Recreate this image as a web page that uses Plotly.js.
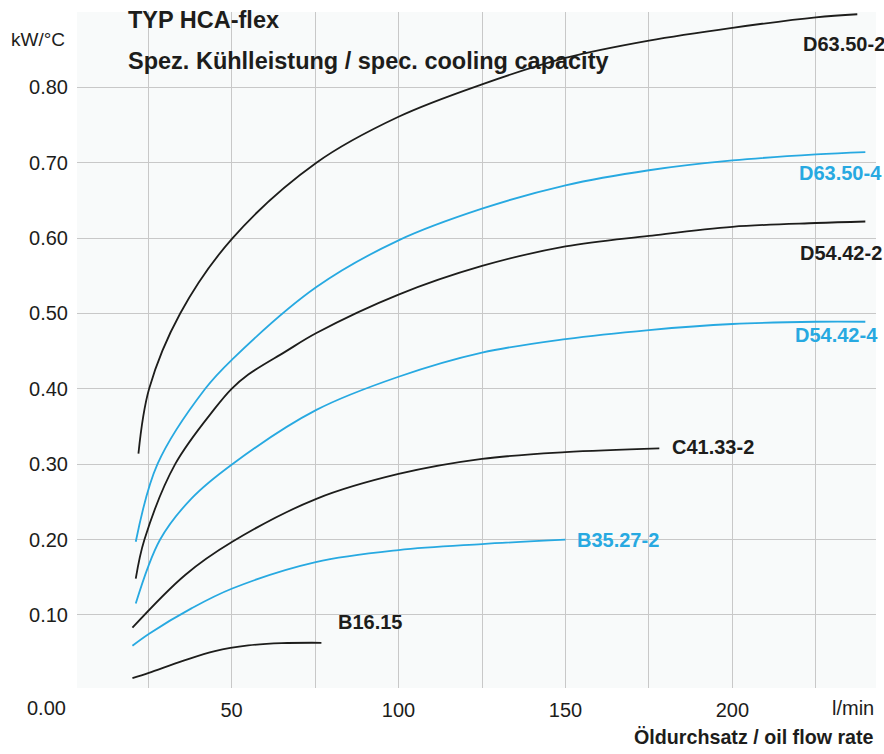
<!DOCTYPE html>
<html>
<head>
<meta charset="utf-8">
<script src="https://cdn.plot.ly/plotly-3.0.1.min.js"></script>
<style>html,body{margin:0;padding:0;background:#fff;}#chart{width:884px;height:754px;}</style>
</head>
<body>
<div id="chart"></div>
<script>
// ---- data ----
const d6350_2_x = [22.1, 25.3, 34.6, 50.3, 75.4, 100, 125, 150, 175, 200, 225, 237.4];
const d6350_2_y = [0.314, 0.400, 0.500, 0.600, 0.700, 0.761, 0.804, 0.839, 0.862, 0.879, 0.893, 0.897];

const d6350_4_x = [21.3, 27.8, 42.1, 50.2, 75.4, 100, 125, 150, 175, 200, 225, 239.8];
const d6350_4_y = [0.197, 0.300, 0.400, 0.439, 0.535, 0.597, 0.639, 0.670, 0.690, 0.703, 0.711, 0.714];

const d5442_2_x = [21.3, 23.9, 33.1, 45, 50, 55, 66, 75.4, 100, 125, 150, 175, 200, 225, 239.8];
const d5442_2_y = [0.148, 0.200, 0.300, 0.374, 0.400, 0.419, 0.449, 0.474, 0.525, 0.563, 0.589, 0.603, 0.615, 0.620, 0.622];

const d5442_4_x = [21.3, 28.6, 38.1, 50.2, 75.4, 100, 125, 150, 175, 200, 225, 239.8];
const d5442_4_y = [0.115, 0.200, 0.255, 0.300, 0.372, 0.416, 0.448, 0.466, 0.478, 0.486, 0.489, 0.489];

const c4133_x = [20.3, 36.1, 50.2, 75.4, 100, 125, 150, 178.1];
const c4133_y = [0.083, 0.153, 0.197, 0.254, 0.287, 0.307, 0.316, 0.321];

const b3527_x = [20.3, 25.3, 38.1, 50.2, 75.2, 100, 125, 150];
const b3527_y = [0.059, 0.075, 0.109, 0.135, 0.170, 0.186, 0.194, 0.200];

const b1615_x = [20.3, 25.2, 35.4, 45, 55, 65, 76.9];
const b1615_y = [0.016, 0.023, 0.039, 0.052, 0.0595, 0.0625, 0.063];

const seriesNames = ['D63.50-2', 'D63.50-4', 'D54.42-2', 'D54.42-4', 'C41.33-2', 'B35.27-2', 'B16.15'];

// tick labels
const xTickVals = [25, 50, 75, 100, 125, 150, 175, 200, 225];
const xTickText = ['', '50', '', '100', '', '150', '', '200', ''];
const yTickVals = [0.1, 0.2, 0.3, 0.4, 0.5, 0.6, 0.7, 0.8];
const yTickText = ['0.10', '0.20', '0.30', '0.40', '0.50', '0.60', '0.70', '0.80'];

const BLACK = '#1d1d1b';
const BLUE = '#27a9e1';
const FONT = 'Liberation Sans, Arial, Helvetica, sans-serif';

function tr(x, y, color) {
  return {x: x, y: y, type: 'scatter', mode: 'lines',
    line: {color: color, width: 1.8, shape: 'spline', smoothing: 1},
    hoverinfo: 'skip', showlegend: false, cliponaxis: false};
}

const data = [
  tr(d6350_2_x, d6350_2_y, BLACK),
  tr(d6350_4_x, d6350_4_y, BLUE),
  tr(d5442_2_x, d5442_2_y, BLACK),
  tr(d5442_4_x, d5442_4_y, BLUE),
  tr(c4133_x, c4133_y, BLACK),
  tr(b3527_x, b3527_y, BLUE),
  tr(b1615_x, b1615_y, BLACK)
];

function lab(text, ref, x, y, color, anchor) {
  return {text: text, x: x, y: y, xref: ref, yref: ref === 'paper' ? 'paper' : 'y',
    xanchor: anchor, yanchor: 'middle', showarrow: false, borderpad: 0,
    font: {family: FONT, size: 20, color: color, weight: 'bold'}};
}

const annotations = [
  lab(seriesNames[0], 'paper', 1.0125, 0.9527, BLACK, 'right'),
  lab(seriesNames[1], 'paper', 1.0088, 0.7618, BLUE, 'right'),
  lab(seriesNames[2], 'paper', 1.0088, 0.6435, BLACK, 'right'),
  lab(seriesNames[3], 'paper', 1.0038, 0.5222, BLUE, 'right'),
  lab(seriesNames[4], 'x', 181.7, 0.323, BLACK, 'left'),
  lab(seriesNames[5], 'x', 153.1, 0.199, BLUE, 'left'),
  lab(seriesNames[6], 'x', 81.6, 0.091, BLACK, 'left'),
  {text: 'TYP HCA-flex', xref: 'paper', yref: 'paper', x: 0.0626, y: 0.988,
   xanchor: 'left', yanchor: 'middle', showarrow: false, borderpad: 0,
   font: {family: FONT, size: 23.5, color: BLACK, weight: 'bold'}},
  {text: 'Spez. Kühlleistung / spec. cooling capacity', xref: 'paper', yref: 'paper', x: 0.0626, y: 0.927,
   xanchor: 'left', yanchor: 'middle', showarrow: false, borderpad: 0,
   font: {family: FONT, size: 23.5, color: BLACK, weight: 'bold'}},
  {text: 'kW/°C', xref: 'paper', yref: 'paper', x: -0.0839, y: 0.9586,
   xanchor: 'left', yanchor: 'middle', showarrow: false, borderpad: 0,
   font: {family: FONT, size: 19, color: BLACK}},
  {text: '0.00', xref: 'paper', yref: 'paper', x: -0.0125, y: -0.0296,
   xanchor: 'right', yanchor: 'middle', showarrow: false, borderpad: 0,
   font: {family: FONT, size: 20, color: BLACK}},
  {text: 'l/min', xref: 'paper', yref: 'paper', x: 0.999, y: -0.0296,
   xanchor: 'right', yanchor: 'middle', showarrow: false, borderpad: 0,
   font: {family: FONT, size: 20, color: BLACK}},
  {text: 'Öldurchsatz / oil flow rate', xref: 'paper', yref: 'paper', x: 0.999, y: -0.0725,
   xanchor: 'right', yanchor: 'middle', showarrow: false, borderpad: 0,
   font: {family: FONT, size: 19.7, color: BLACK, weight: 'bold'}}
];

const layout = {
  width: 884, height: 754,
  margin: {l: 77, r: 8, t: 12, b: 66, pad: 0},
  paper_bgcolor: '#ffffff',
  plot_bgcolor: '#f8fafa',
  font: {family: FONT, size: 20, color: BLACK},
  showlegend: false,
  xaxis: {
    range: [3.7, 243], tickvals: xTickVals, ticktext: xTickText,
    showgrid: true, gridcolor: '#c8c8c8', gridwidth: 1,
    zeroline: false, showline: false, ticks: '', ticklabelstandoff: 8,
    tickfont: {family: FONT, size: 20, color: BLACK}, fixedrange: true
  },
  yaxis: {
    range: [0.003, 0.9], tickvals: yTickVals, ticktext: yTickText,
    showgrid: true, gridcolor: '#c8c8c8', gridwidth: 1,
    zeroline: false, showline: false, ticks: '', ticklabelstandoff: 8,
    tickfont: {family: FONT, size: 20, color: BLACK}, fixedrange: true
  },
  annotations: annotations
};

Plotly.newPlot('chart', data, layout, {displayModeBar: false, staticPlot: true});
</script>
</body>
</html>
